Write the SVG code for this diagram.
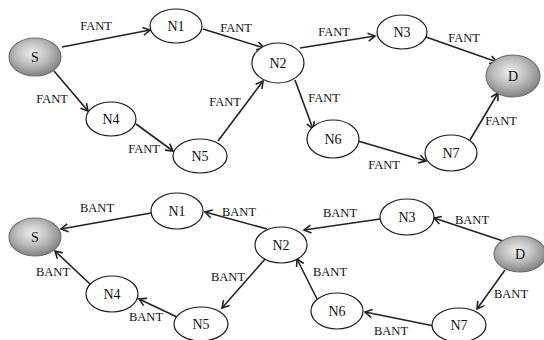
<svg xmlns="http://www.w3.org/2000/svg" width="544" height="340" viewBox="0 0 544 340">
<style>
.n{fill:#fff;stroke:#1a1a1a;stroke-width:1.2}
.g{fill:url(#gr);stroke:#6e6e6e;stroke-width:1.1}
.t{font-family:"Liberation Serif","Times New Roman",serif;font-size:14px;fill:#111;text-anchor:middle;dominant-baseline:central}
.l{font-family:"Liberation Serif","Times New Roman",serif;font-size:12.5px;fill:#111;text-anchor:middle;dominant-baseline:central}
.e{stroke:#222;stroke-width:1.6;fill:none;marker-end:url(#ah)}
</style>
<defs>
<radialGradient id="gr" cx="45%" cy="40%" r="62%">
<stop offset="0" stop-color="#eeeeee"/>
<stop offset="0.5" stop-color="#bdbdbd"/>
<stop offset="1" stop-color="#7e7e7e"/>
</radialGradient>
<marker id="ah" markerUnits="userSpaceOnUse" markerWidth="12" markerHeight="12" refX="9" refY="5" orient="auto" viewBox="0 0 12 10">
<path d="M2,1 L9,5 L2,9" fill="none" stroke="#222" stroke-width="1.6"/>
</marker>
</defs>
<g id="connectors">
<line class="e" x1="62" y1="47" x2="150" y2="30"/>
<line class="e" x1="203" y1="29" x2="264" y2="48"/>
<line class="e" x1="54" y1="71" x2="88" y2="111"/>
<line class="e" x1="136" y1="124" x2="173" y2="151"/>
<line class="e" x1="218" y1="141" x2="263" y2="81"/>
<line class="e" x1="300" y1="48" x2="375" y2="36"/>
<line class="e" x1="426" y1="37" x2="497" y2="62"/>
<line class="e" x1="295" y1="80" x2="313" y2="129"/>
<line class="e" x1="358" y1="141" x2="426" y2="161"/>
<line class="e" x1="470" y1="140" x2="498" y2="93"/>
<line class="e" x1="151" y1="213" x2="61" y2="229"/>
<line class="e" x1="267" y1="229" x2="205" y2="212"/>
<line class="e" x1="90" y1="284" x2="55" y2="251"/>
<line class="e" x1="266" y1="258" x2="222" y2="308"/>
<line class="e" x1="177" y1="317" x2="139" y2="299"/>
<line class="e" x1="380" y1="219" x2="304" y2="230"/>
<line class="e" x1="503" y1="241" x2="434" y2="218"/>
<line class="e" x1="317" y1="299" x2="297" y2="259"/>
<line class="e" x1="505" y1="270" x2="477" y2="309"/>
<line class="e" x1="434" y1="326" x2="365" y2="312"/>
</g>
<g id="edge-labels">
<text class="l" x="96" y="26">FANT</text>
<text class="l" x="236" y="28">FANT</text>
<text class="l" x="52" y="99">FANT</text>
<text class="l" x="144" y="149">FANT</text>
<text class="l" x="225" y="102">FANT</text>
<text class="l" x="334" y="32">FANT</text>
<text class="l" x="464" y="38">FANT</text>
<text class="l" x="324" y="98">FANT</text>
<text class="l" x="384" y="165">FANT</text>
<text class="l" x="501" y="121">FANT</text>
<text class="l" x="97" y="208">BANT</text>
<text class="l" x="239" y="212">BANT</text>
<text class="l" x="53" y="272">BANT</text>
<text class="l" x="228" y="277">BANT</text>
<text class="l" x="146" y="317">BANT</text>
<text class="l" x="340" y="213">BANT</text>
<text class="l" x="472" y="220">BANT</text>
<text class="l" x="330" y="272">BANT</text>
<text class="l" x="511" y="294">BANT</text>
<text class="l" x="391" y="331">BANT</text>
</g>
<g id="top-S"><ellipse class="g" cx="35" cy="57" rx="26" ry="19"/><text class="t" x="35" y="57">S</text></g>
<g id="top-N1"><ellipse class="n" cx="176" cy="26" rx="26" ry="17"/><text class="t" x="176" y="26">N1</text></g>
<g id="top-N4"><ellipse class="n" cx="111" cy="119" rx="25" ry="17"/><text class="t" x="111" y="119">N4</text></g>
<g id="top-N5"><ellipse class="n" cx="200" cy="156" rx="27" ry="17"/><text class="t" x="200" y="156">N5</text></g>
<g id="top-N2"><ellipse class="n" cx="278" cy="63" rx="26" ry="20"/><text class="t" x="278" y="63">N2</text></g>
<g id="top-N3"><ellipse class="n" cx="402" cy="32" rx="25" ry="17"/><text class="t" x="402" y="32">N3</text></g>
<g id="top-D"><ellipse class="g" cx="513" cy="76" rx="27" ry="21"/><text class="t" x="513" y="76">D</text></g>
<g id="top-N6"><ellipse class="n" cx="333" cy="139" rx="26" ry="19"/><text class="t" x="333" y="139">N6</text></g>
<g id="top-N7"><ellipse class="n" cx="451" cy="153" rx="26" ry="18"/><text class="t" x="451" y="153">N7</text></g>
<g id="bot-S"><ellipse class="g" cx="35" cy="237" rx="26" ry="19"/><text class="t" x="35" y="237">S</text></g>
<g id="bot-N1"><ellipse class="n" cx="177" cy="211" rx="26" ry="18"/><text class="t" x="177" y="211">N1</text></g>
<g id="bot-N4"><ellipse class="n" cx="112" cy="294" rx="26" ry="18"/><text class="t" x="112" y="294">N4</text></g>
<g id="bot-N5"><ellipse class="n" cx="201" cy="324" rx="27" ry="17"/><text class="t" x="201" y="324">N5</text></g>
<g id="bot-N2"><ellipse class="n" cx="281" cy="245" rx="26" ry="18"/><text class="t" x="281" y="245">N2</text></g>
<g id="bot-N3"><ellipse class="n" cx="407" cy="217" rx="27" ry="18"/><text class="t" x="407" y="217">N3</text></g>
<g id="bot-D"><ellipse class="g" cx="520" cy="254" rx="26" ry="18"/><text class="t" x="520" y="254">D</text></g>
<g id="bot-N6"><ellipse class="n" cx="337" cy="311" rx="26" ry="18"/><text class="t" x="337" y="311">N6</text></g>
<g id="bot-N7"><ellipse class="n" cx="459" cy="325" rx="27" ry="17"/><text class="t" x="459" y="325">N7</text></g>
</svg>
